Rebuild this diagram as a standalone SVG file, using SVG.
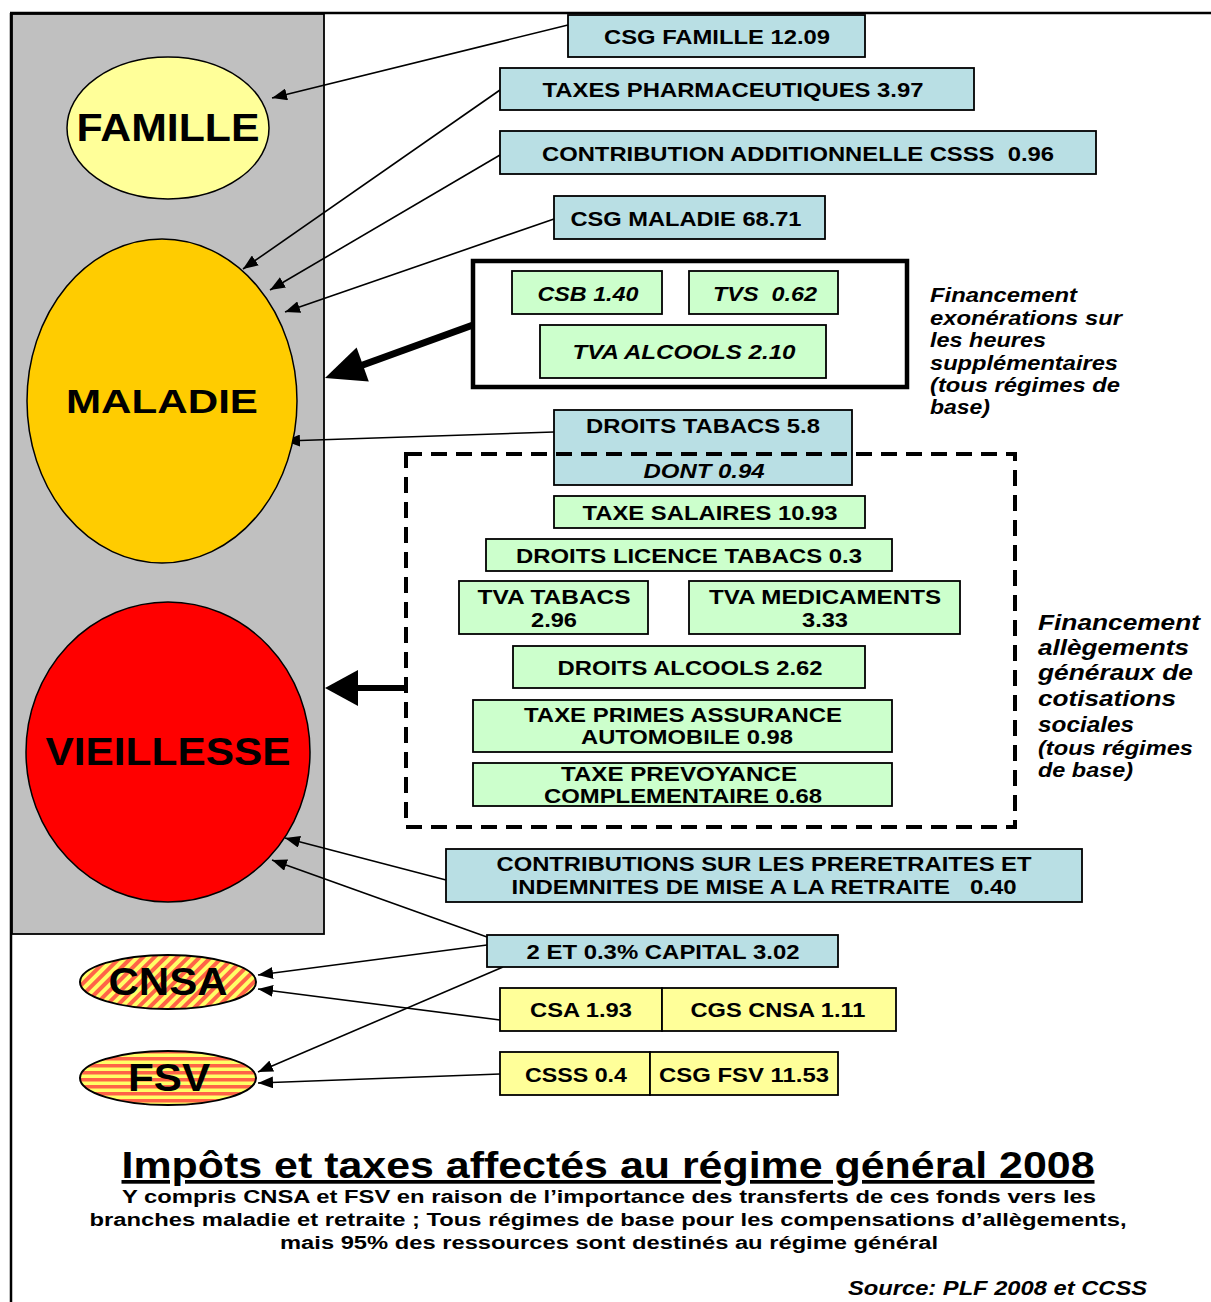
<svg xmlns="http://www.w3.org/2000/svg" width="1211" height="1302" viewBox="0 0 1211 1302">
<style>
.t{font-family:"Liberation Sans",Arial,sans-serif;font-weight:bold;fill:#000;text-anchor:middle}
.bx{font-size:21px}
.b2{font-size:19.5px}
.el{font-size:38px}
.it{font-style:italic}
.blue{fill:#b9dfe4;stroke:#000;stroke-width:1.8}
.green{fill:#ccffcc;stroke:#000;stroke-width:1.8}
.yel{fill:#ffff99;stroke:#000;stroke-width:1.8}
.conn{stroke:#000;stroke-width:1.6;fill:none;marker-end:url(#ah)}
.note{font-family:"Liberation Sans",Arial,sans-serif;font-weight:bold;font-style:italic;fill:#000}
</style>
<defs>
<marker id="ah" markerUnits="userSpaceOnUse" markerWidth="16" markerHeight="12" refX="15" refY="6" orient="auto">
<path d="M0,0 L15,6 L0,12 Z" fill="#000"/>
</marker>
<pattern id="diag" patternUnits="userSpaceOnUse" width="8" height="8" patternTransform="rotate(45)">
<rect width="8" height="8" fill="#ffff66"/>
<rect width="4" height="8" fill="#ff6347"/>
</pattern>
<pattern id="horiz" patternUnits="userSpaceOnUse" width="10" height="7">
<rect width="10" height="7" fill="#ffff66"/>
<rect width="10" height="3.5" fill="#ff6347"/>
</pattern>
</defs>

<g id="frame">
<line x1="10" y1="13" x2="1211" y2="13" stroke="#000" stroke-width="2.5"/>
<line x1="11" y1="13" x2="11" y2="1302" stroke="#000" stroke-width="2.5"/>
<rect x="12" y="14" width="312" height="920" fill="#c0c0c0" stroke="#000" stroke-width="1.8"/>
</g>

<g id="connectors">
<line class="conn" x1="568" y1="25" x2="272" y2="98"/>
<line class="conn" x1="500" y1="90" x2="243" y2="269"/>
<line class="conn" x1="500" y1="155" x2="270" y2="290"/>
<line class="conn" x1="554" y1="219" x2="285" y2="312"/>
<line class="conn" x1="554" y1="432" x2="285" y2="441"/>
<line class="conn" x1="446" y1="880" x2="285" y2="838"/>
<line class="conn" x1="487" y1="937" x2="272" y2="860"/>
<line class="conn" x1="487" y1="945" x2="258" y2="975"/>
<line class="conn" x1="500" y1="1020" x2="258" y2="989"/>
<line class="conn" x1="503" y1="967" x2="258" y2="1072"/>
<line class="conn" x1="500" y1="1074" x2="258" y2="1083"/>
<line x1="473" y1="325" x2="360" y2="366" stroke="#000" stroke-width="7"/>
<polygon points="325,378 368.8,381.5 356.6,347.5" fill="#000"/>
<line x1="405" y1="688" x2="355" y2="688" stroke="#000" stroke-width="6"/>
<polygon points="325,688 358,670 358,706" fill="#000"/>
</g>

<g id="famille">
<ellipse cx="168" cy="128" rx="101" ry="71" fill="#ffff99" stroke="#000" stroke-width="1.5"/>
<text class="t el" x="168" y="141" textLength="183" lengthAdjust="spacingAndGlyphs">FAMILLE</text>
</g>
<g id="maladie">
<ellipse cx="162" cy="401" rx="135" ry="162" fill="#ffcc00" stroke="#000" stroke-width="1.5"/>
<text class="t" x="162" y="413" font-size="34" textLength="192" lengthAdjust="spacingAndGlyphs">MALADIE</text>
</g>
<g id="vieillesse">
<ellipse cx="168" cy="752" rx="142" ry="150" fill="#ff0000" stroke="#000" stroke-width="1.5"/>
<text class="t el" x="168" y="765" textLength="245" lengthAdjust="spacingAndGlyphs">VIEILLESSE</text>
</g>
<g id="cnsa">
<ellipse cx="168" cy="982" rx="88" ry="27" fill="url(#diag)" stroke="#000" stroke-width="2"/>
<text class="t el" x="168" y="995" textLength="119" lengthAdjust="spacingAndGlyphs">CNSA</text>
</g>
<g id="fsv">
<ellipse cx="168" cy="1078" rx="88" ry="27" fill="url(#horiz)" stroke="#000" stroke-width="2"/>
<text class="t el" x="169" y="1091" textLength="82" lengthAdjust="spacingAndGlyphs">FSV</text>
</g>

<g id="csg-famille">
<rect class="blue" x="568" y="15" width="297" height="42"/>
<text class="t bx" x="717" y="43.5" textLength="226" lengthAdjust="spacingAndGlyphs">CSG FAMILLE 12.09</text>
</g>
<g id="taxes-pharma">
<rect class="blue" x="500" y="68" width="474" height="42"/>
<text class="t bx" x="733" y="96.5" textLength="381" lengthAdjust="spacingAndGlyphs">TAXES PHARMACEUTIQUES 3.97</text>
</g>
<g id="contrib-add">
<rect class="blue" x="500" y="131" width="596" height="43"/>
<text class="t bx" x="798" y="160.5" textLength="512" lengthAdjust="spacingAndGlyphs" xml:space="preserve">CONTRIBUTION ADDITIONNELLE CSSS  0.96</text>
</g>
<g id="csg-maladie">
<rect class="blue" x="554" y="196" width="271" height="43"/>
<text class="t bx" x="686" y="225.5" textLength="231" lengthAdjust="spacingAndGlyphs">CSG MALADIE 68.71</text>
</g>

<g id="heures-sup">
<rect x="473" y="261" width="434" height="126" fill="#fff" stroke="#000" stroke-width="4.5"/>
</g>
<g id="csb">
<rect class="green" x="512" y="271" width="150" height="43"/>
<text class="t bx it" x="588" y="300.5" textLength="101" lengthAdjust="spacingAndGlyphs">CSB 1.40</text>
</g>
<g id="tvs">
<rect class="green" x="689" y="271" width="149" height="43"/>
<text class="t bx it" x="765" y="300.5" textLength="104" lengthAdjust="spacingAndGlyphs" xml:space="preserve">TVS  0.62</text>
</g>
<g id="tva-alcools">
<rect class="green" x="540" y="325" width="286" height="53"/>
<text class="t bx it" x="684" y="358.5" textLength="223" lengthAdjust="spacingAndGlyphs">TVA ALCOOLS 2.10</text>
</g>

<g id="note-heures">
<text class="note" font-size="19.5">
<tspan x="930" y="302" textLength="147" lengthAdjust="spacingAndGlyphs">Financement</tspan>
<tspan x="930" y="325" textLength="192" lengthAdjust="spacingAndGlyphs">exonérations sur</tspan>
<tspan x="930" y="347" textLength="116" lengthAdjust="spacingAndGlyphs">les heures</tspan>
<tspan x="930" y="370" textLength="188" lengthAdjust="spacingAndGlyphs">supplémentaires</tspan>
<tspan x="930" y="392" textLength="190" lengthAdjust="spacingAndGlyphs">(tous régimes de</tspan>
<tspan x="930" y="414" textLength="60" lengthAdjust="spacingAndGlyphs">base)</tspan>
</text>
</g>

<g id="droits-tabacs">
<rect class="blue" x="554" y="410" width="298" height="75"/>
<text class="t bx" x="703" y="432.5" textLength="234" lengthAdjust="spacingAndGlyphs">DROITS TABACS 5.8</text>
<text class="t bx it" x="704" y="477.5" textLength="121" lengthAdjust="spacingAndGlyphs">DONT 0.94</text>
</g>

<g id="allegements">
<rect x="406" y="454" width="609" height="373" fill="none" stroke="#000" stroke-width="4" stroke-dasharray="16,9"/>
</g>
<g id="taxe-salaires">
<rect class="green" x="554" y="496" width="311" height="32"/>
<text class="t bx" x="710" y="519.5" textLength="255" lengthAdjust="spacingAndGlyphs">TAXE SALAIRES 10.93</text>
</g>
<g id="licence-tabacs">
<rect class="green" x="486" y="539" width="406" height="32"/>
<text class="t bx" x="689" y="562.5" textLength="346" lengthAdjust="spacingAndGlyphs">DROITS LICENCE TABACS 0.3</text>
</g>
<g id="tva-tabacs">
<rect class="green" x="459" y="581" width="189" height="53"/>
<text class="t b2" x="554" y="604" textLength="153" lengthAdjust="spacingAndGlyphs">TVA TABACS</text>
<text class="t b2" x="554" y="627" textLength="46" lengthAdjust="spacingAndGlyphs">2.96</text>
</g>
<g id="tva-medicaments">
<rect class="green" x="689" y="581" width="271" height="53"/>
<text class="t b2" x="825" y="604" textLength="232" lengthAdjust="spacingAndGlyphs">TVA MEDICAMENTS</text>
<text class="t b2" x="825" y="627" textLength="46" lengthAdjust="spacingAndGlyphs">3.33</text>
</g>
<g id="droits-alcools">
<rect class="green" x="513" y="646" width="352" height="42"/>
<text class="t bx" x="690" y="674.5" textLength="265" lengthAdjust="spacingAndGlyphs">DROITS ALCOOLS 2.62</text>
</g>
<g id="primes-auto">
<rect class="green" x="473" y="700" width="419" height="52"/>
<text class="t b2" x="683" y="722" textLength="318" lengthAdjust="spacingAndGlyphs">TAXE PRIMES ASSURANCE</text>
<text class="t b2" x="687" y="744" textLength="212" lengthAdjust="spacingAndGlyphs">AUTOMOBILE 0.98</text>
</g>
<g id="prevoyance">
<rect class="green" x="473" y="763" width="419" height="43"/>
<text class="t b2" x="679" y="781" textLength="236" lengthAdjust="spacingAndGlyphs">TAXE PREVOYANCE</text>
<text class="t b2" x="683" y="803" textLength="278" lengthAdjust="spacingAndGlyphs">COMPLEMENTAIRE 0.68</text>
</g>

<g id="note-allegements">
<text class="note" font-size="22">
<tspan x="1038" y="630" textLength="162" lengthAdjust="spacingAndGlyphs">Financement</tspan>
<tspan x="1038" y="655" textLength="151" lengthAdjust="spacingAndGlyphs">allègements</tspan>
<tspan x="1038" y="680" textLength="155" lengthAdjust="spacingAndGlyphs">généraux de</tspan>
<tspan x="1038" y="706" textLength="138" lengthAdjust="spacingAndGlyphs">cotisations</tspan>
<tspan x="1038" y="732" textLength="96" lengthAdjust="spacingAndGlyphs">sociales</tspan>
</text>
<text class="note" font-size="19.5">
<tspan x="1038" y="755" textLength="155" lengthAdjust="spacingAndGlyphs">(tous régimes</tspan>
<tspan x="1038" y="777" textLength="95" lengthAdjust="spacingAndGlyphs">de base)</tspan>
</text>
</g>

<g id="preretraites">
<rect class="blue" x="446" y="849" width="636" height="53"/>
<text class="t b2" x="764" y="871" textLength="535" lengthAdjust="spacingAndGlyphs">CONTRIBUTIONS SUR LES PRERETRAITES ET</text>
<text class="t b2" x="764" y="894" textLength="505" lengthAdjust="spacingAndGlyphs" xml:space="preserve">INDEMNITES DE MISE A LA RETRAITE   0.40</text>
</g>
<g id="capital">
<rect class="blue" x="487" y="935" width="351" height="32"/>
<text class="t bx" x="663" y="958.5" textLength="273" lengthAdjust="spacingAndGlyphs">2 ET 0.3% CAPITAL 3.02</text>
</g>
<g id="csa">
<rect class="yel" x="500" y="988" width="162" height="43"/>
<text class="t bx" x="581" y="1016.5" textLength="102" lengthAdjust="spacingAndGlyphs">CSA 1.93</text>
</g>
<g id="cgs-cnsa">
<rect class="yel" x="662" y="988" width="234" height="43"/>
<text class="t bx" x="778" y="1016.5" textLength="175" lengthAdjust="spacingAndGlyphs">CGS CNSA 1.11</text>
</g>
<g id="csss">
<rect class="yel" x="500" y="1052" width="150" height="43"/>
<text class="t bx" x="576" y="1081.5" textLength="102" lengthAdjust="spacingAndGlyphs">CSSS 0.4</text>
</g>
<g id="csg-fsv">
<rect class="yel" x="650" y="1052" width="188" height="43"/>
<text class="t bx" x="744" y="1081.5" textLength="170" lengthAdjust="spacingAndGlyphs">CSG FSV 11.53</text>
</g>

<g id="title">
<text class="t" x="608" y="1178" font-size="37" textLength="973" lengthAdjust="spacingAndGlyphs" text-decoration="underline">Impôts et taxes affectés au régime général 2008</text>
<text class="t" x="609" y="1203" font-size="17.5" textLength="974" lengthAdjust="spacingAndGlyphs">Y compris CNSA et FSV en raison de l’importance des transferts de ces fonds vers les</text>
<text class="t" x="608" y="1226" font-size="17.5" textLength="1037" lengthAdjust="spacingAndGlyphs">branches maladie et retraite ; Tous régimes de base pour les compensations d’allègements,</text>
<text class="t" x="609" y="1249" font-size="17.5" textLength="658" lengthAdjust="spacingAndGlyphs">mais 95% des ressources sont destinés au régime général</text>
<text class="note" x="1147" y="1295" font-size="19.5" text-anchor="end" textLength="299" lengthAdjust="spacingAndGlyphs">Source: PLF 2008 et CCSS</text>
</g>
</svg>
